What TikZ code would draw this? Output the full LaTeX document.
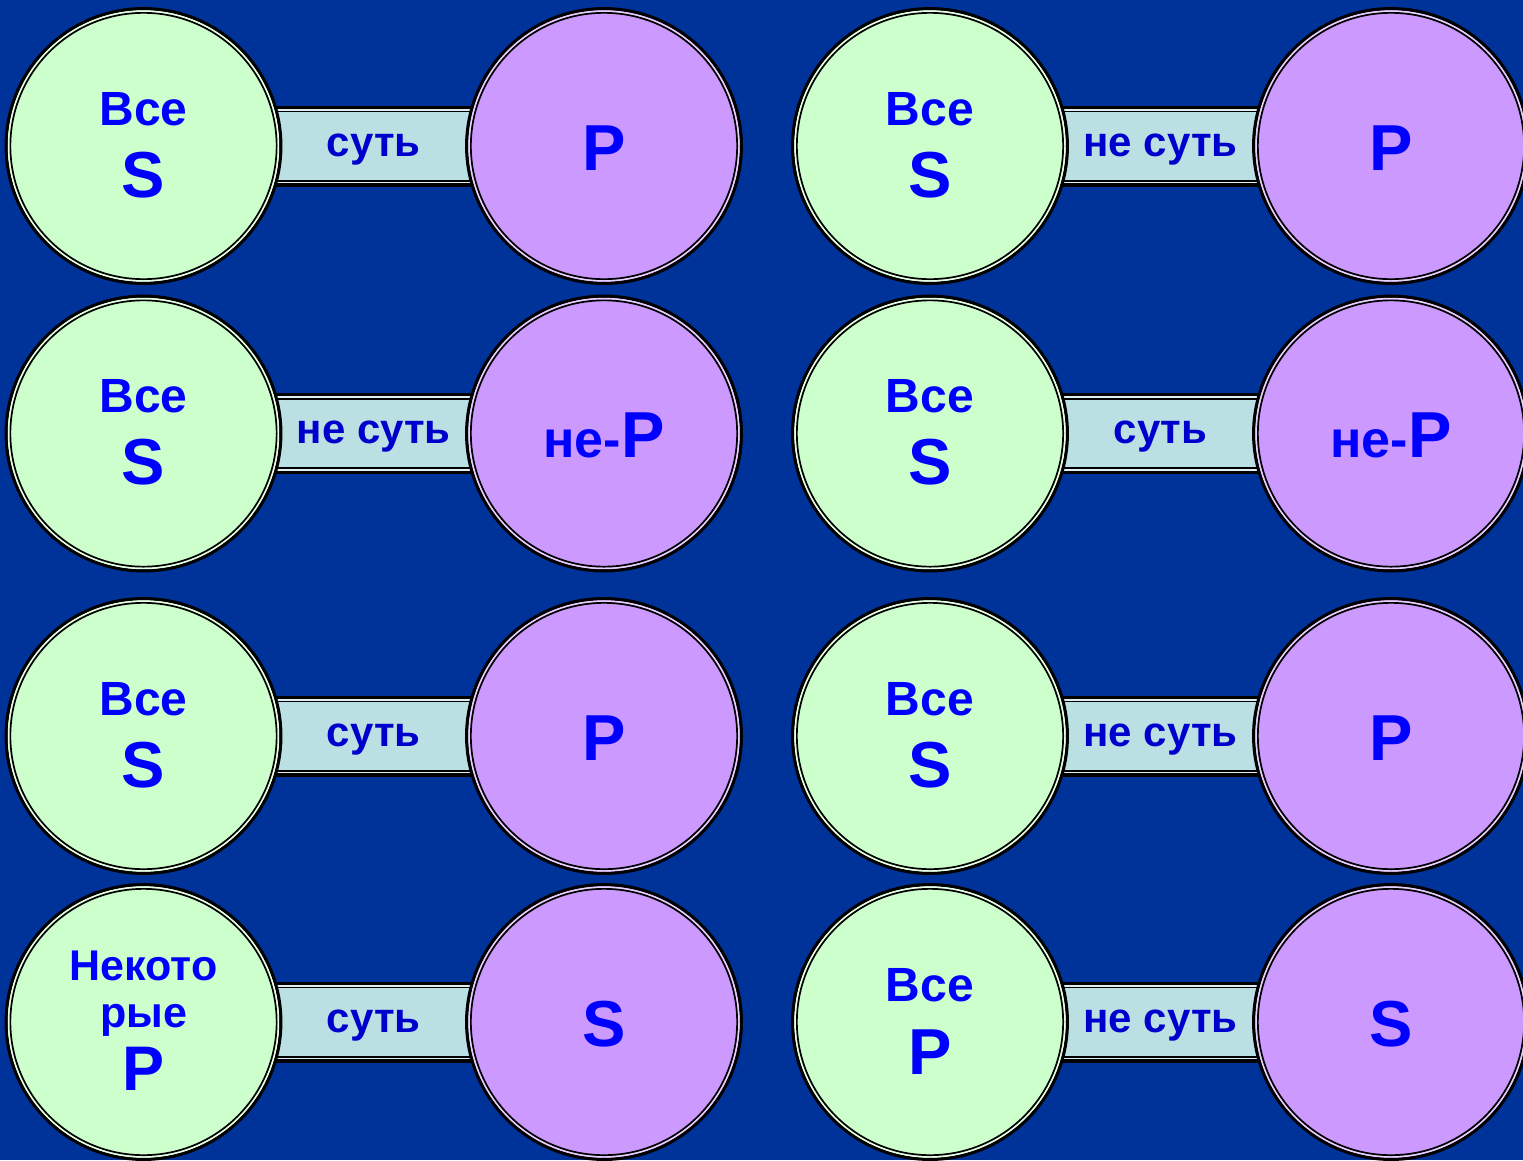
\documentclass[tikz,border=0pt]{standalone}
\usepackage{fontspec}
\setmainfont{Liberation Sans}
\definecolor{bgblue}{HTML}{003399}
\definecolor{sgreen}{HTML}{CCFFCC}
\definecolor{spurple}{HTML}{CC99FF}
\definecolor{barfill}{HTML}{BBE0E3}
\definecolor{tblue}{HTML}{0000FF}
\definecolor{barblue}{HTML}{0000CC}
\pgfdeclarelayer{bg}
\pgfsetlayers{bg,main}
\newcommand\mkcirc[4]{%
  \node[circ, fill=#4] (#1) at (#2,#3) {};
  \draw[line width=1.7pt, #4!45!white] (#1.center) circle[radius=134.85pt];
  \draw[line width=1.7pt, black] (#1.center) circle[radius=133.15pt];
}
\newcommand\mkbar[4]{%
  \begin{pgfonlayer}{bg}
    \draw[barpath] (#1.center) -- (#2.center);
    \path (#1.center) -- (#2.center) node[midway, bartext] (#3) {#4};
  \end{pgfonlayer}
}
\begin{document}
\begin{tikzpicture}[x=1pt,y=-1pt,
  circ/.style={circle, inner sep=0pt, minimum size=274.6pt, draw=black, line width=3.3pt},
  barpath/.style={draw=black, line width=81pt,
    postaction={draw=barfill!50!white, line width=74.4pt},
    postaction={draw=black, line width=71pt},
    postaction={draw=barfill, line width=67.6pt}},
  bartext/.style={font=\fontsize{42}{44}\selectfont\bfseries, text=barblue, anchor=base, yshift=-10pt, inner sep=0pt},
  word/.style={font=\fontsize{48}{50}\selectfont\bfseries, text=tblue, anchor=base, inner sep=0pt},
  sword/.style={font=\fontsize{43}{45}\selectfont\bfseries, text=tblue, anchor=base, inner sep=0pt},
  letter/.style={font=\fontsize{65}{67}\selectfont\bfseries, text=tblue, anchor=base, inner sep=0pt},
  nep/.style={text=tblue, anchor=base, inner sep=0pt}]
\useasboundingbox (0,0) rectangle (1523,1160);
\clip (0,0) rectangle (1523,1160);
\begin{pgfonlayer}{bg}
  \fill[bgblue] (0,0) rectangle (1523,1160);
\end{pgfonlayer}

% Row 1
\mkcirc{g1}{143.5}{146}{sgreen}
\mkcirc{p1}{604}{146}{spurple}
\mkbar{g1}{p1}{b1}{суть}
\node[word] (g1a) at ([yshift=21pt]g1.center) {Все};
\node[letter] (g1b) at ([yshift=-51pt]g1.center) {S};
\node[letter] (p1a) at ([yshift=-24pt]p1.center) {P};

\mkcirc{g2}{930}{146}{sgreen}
\mkcirc{p2}{1391}{146}{spurple}
\mkbar{g2}{p2}{b2}{не суть}
\node[word] (g2a) at ([yshift=21pt]g2.center) {Все};
\node[letter] (g2b) at ([yshift=-51pt]g2.center) {S};
\node[letter] (p2a) at ([yshift=-24pt]p2.center) {P};

% Row 2
\mkcirc{g3}{143.5}{433.5}{sgreen}
\mkcirc{p3}{604}{433.5}{spurple}
\mkbar{g3}{p3}{b3}{не суть}
\node[word] (g3a) at ([yshift=21pt]g3.center) {Все};
\node[letter] (g3b) at ([yshift=-51pt]g3.center) {S};
\node[nep] (p3a) at ([yshift=-23.5pt]p3.center) {{\fontsize{52}{54}\selectfont\bfseries не-}{\fontsize{65}{67}\selectfont\bfseries P}};

\mkcirc{g4}{930}{433.5}{sgreen}
\mkcirc{p4}{1391}{433.5}{spurple}
\mkbar{g4}{p4}{b4}{суть}
\node[word] (g4a) at ([yshift=21pt]g4.center) {Все};
\node[letter] (g4b) at ([yshift=-51pt]g4.center) {S};
\node[nep] (p4a) at ([yshift=-23.5pt]p4.center) {{\fontsize{52}{54}\selectfont\bfseries не-}{\fontsize{65}{67}\selectfont\bfseries P}};

% Row 3
\mkcirc{g5}{143.5}{736}{sgreen}
\mkcirc{p5}{604}{736}{spurple}
\mkbar{g5}{p5}{b5}{суть}
\node[word] (g5a) at ([yshift=21pt]g5.center) {Все};
\node[letter] (g5b) at ([yshift=-51pt]g5.center) {S};
\node[letter] (p5a) at ([yshift=-24pt]p5.center) {P};

\mkcirc{g6}{930}{736}{sgreen}
\mkcirc{p6}{1391}{736}{spurple}
\mkbar{g6}{p6}{b6}{не суть}
\node[word] (g6a) at ([yshift=21pt]g6.center) {Все};
\node[letter] (g6b) at ([yshift=-51pt]g6.center) {S};
\node[letter] (p6a) at ([yshift=-24pt]p6.center) {P};

% Row 4
\mkcirc{g7}{143.5}{1022}{sgreen}
\mkcirc{p7}{604}{1022}{spurple}
\mkbar{g7}{p7}{b7}{суть}
\node[sword] (g7a) at ([yshift=42pt]g7.center) {Некото};
\node[sword] (g7b) at ([yshift=-5pt]g7.center) {рые};
\node[letter, font=\fontsize{63}{65}\selectfont\bfseries] (g7c) at ([yshift=-68pt]g7.center) {P};
\node[letter] (p7a) at ([yshift=-24pt]p7.center) {S};

\mkcirc{g8}{930}{1022}{sgreen}
\mkcirc{p8}{1391}{1022}{spurple}
\mkbar{g8}{p8}{b8}{не суть}
\node[word] (g8a) at ([yshift=20.5pt]g8.center) {Все};
\node[letter] (g8b) at ([yshift=-52.5pt]g8.center) {P};
\node[letter] (p8a) at ([yshift=-24pt]p8.center) {S};
\end{tikzpicture}
\end{document}
